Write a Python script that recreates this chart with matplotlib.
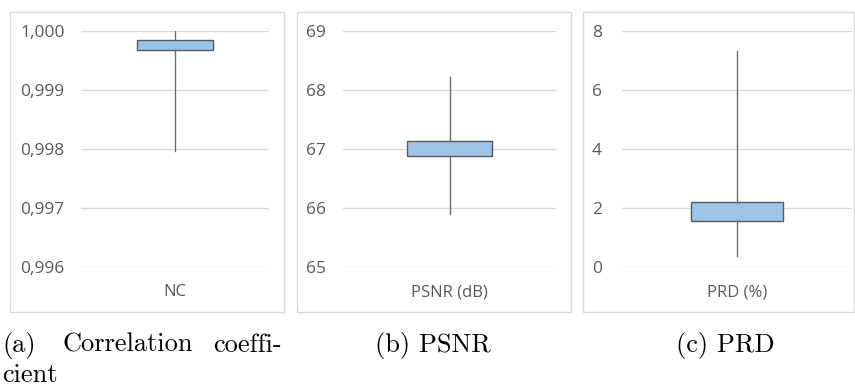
import matplotlib
matplotlib.use("Agg")
import matplotlib.pyplot as plt
from matplotlib.patches import Rectangle

# box statistics per metric: lower whisker, Q1, Q3, upper whisker
labels = ["NC", "PSNR (dB)", "PRD (%)"]
whislo = [0.99797, 65.90, 0.36]
q1 = [0.99967, 66.887, 1.56]
q3 = [0.99984, 67.136, 2.22]
whishi = [1.0000, 68.225, 7.31]

yticks = [
    [0.996, 0.997, 0.998, 0.999, 1.000],
    [65, 66, 67, 68, 69],
    [0, 2, 4, 6, 8],
]
ytick_labels = [
    ["0,996", "0,997", "0,998", "0,999", "1,000"],
    ["65", "66", "67", "68", "69"],
    ["0", "2", "4", "6", "8"],
]
captions = ["(b) PSNR", "(c) PRD"]

W, H = 855, 386
fig = plt.figure(figsize=(W / 100, H / 100), dpi=100)

gray_txt = "#595959"
grid_c = "#d9d9d9"

# layout in pixels: panel frame (x0, x1), plot area (x0, x1), label pad
frames = [(10, 284), (297, 571), (583, 854)]
plots = [(81, 269), (343, 556), (622, 852)]
pads = [61, 37, 30]
top_px, bot_px = 31, 267
frame_top, frame_bot = 12, 312

for i in range(3):
    fx0, fx1 = frames[i]
    fig.patches.append(Rectangle((fx0 / W, 1 - frame_bot / H), (fx1 - fx0) / W,
                                 (frame_bot - frame_top) / H, transform=fig.transFigure,
                                 facecolor="none", edgecolor=grid_c, lw=1.0))
    px0, px1 = plots[i]
    ax = fig.add_axes([px0 / W, 1 - bot_px / H, (px1 - px0) / W, (bot_px - top_px) / H])
    ax.set_facecolor("none")
    for s in ax.spines.values():
        s.set_visible(False)

    stats = [{
        "whislo": whislo[i], "q1": q1[i], "med": q1[i], "q3": q3[i],
        "whishi": whishi[i], "fliers": [], "label": labels[i],
    }]
    ax.bxp(stats, positions=[0.5], widths=0.4, patch_artist=True, showcaps=False,
           boxprops=dict(facecolor="#9dc3e6", edgecolor="#5a5a5a", lw=1.0),
           whiskerprops=dict(color="#6e6e6e", lw=1.0),
           medianprops=dict(visible=False), zorder=3)

    ax.set_xlim(0, 1)
    ax.set_ylim(yticks[i][0], yticks[i][-1])
    ax.set_yticks(yticks[i])
    ax.set_yticklabels(ytick_labels[i])
    ax.yaxis.grid(True, color=grid_c, lw=1.0)
    ax.set_axisbelow(True)
    ax.tick_params(axis="y", length=0, pad=pads[i] * 0.72, labelsize=12.5,
                   labelcolor=gray_txt)
    for t in ax.get_yticklabels():
        t.set_horizontalalignment("left")
        t.set_family("Open Sans")
    ax.set_xticks([0.5])
    ax.set_xticklabels([labels[i]], family="Open Sans")
    ax.tick_params(axis="x", length=0, pad=12.5, labelsize=12, labelcolor=gray_txt)

# sub-figure captions
cap = dict(family="cmr10", fontsize=19, va="baseline", color="black")
fig.text(2 / W, 1 - 352 / H, "(a)", **cap)
fig.text(62 / W, 1 - 352 / H, "Correlation", **cap)
fig.text(213 / W, 1 - 352 / H, "coeffi-", **cap)
fig.text(2 / W, 1 - 382 / H, "cient", **cap)
fig.text(375 / W, 1 - 352 / H, captions[0], **cap)
fig.text(676 / W, 1 - 352 / H, captions[1], **cap)

fig.savefig("out.png", dpi=100)
